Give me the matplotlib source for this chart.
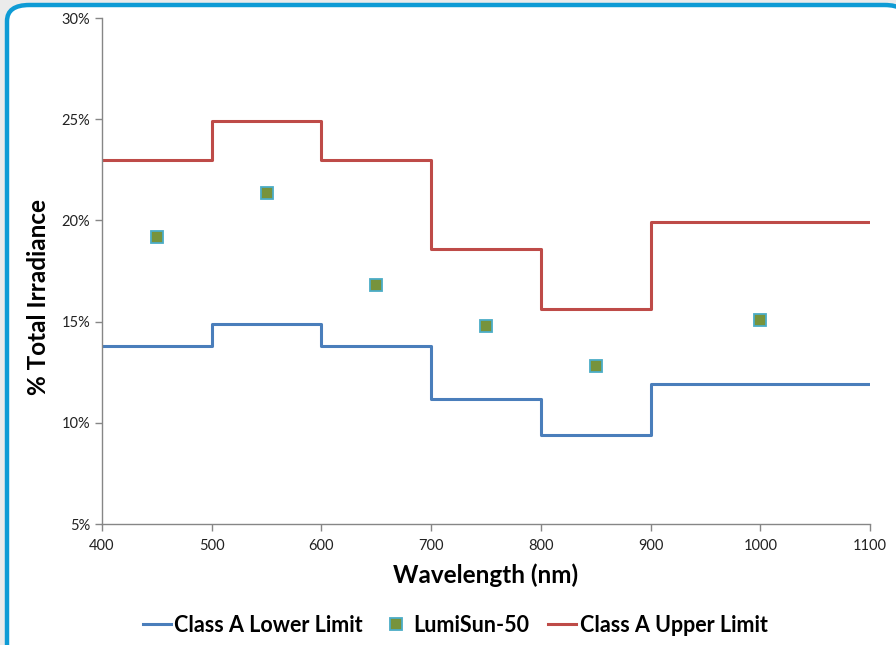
import matplotlib.pyplot as plt
from matplotlib.patches import FancyBboxPatch
from matplotlib.ticker import FuncFormatter

plt.rcParams['font.family'] = ['Lato', 'DejaVu Sans']

# step edges (nm) and limit values (%)
edges = [400, 500, 600, 700, 800, 900, 1100]
lower = [13.8, 14.9, 13.8, 11.2, 9.4, 11.9]
upper = [23.0, 24.9, 23.0, 18.6, 15.6, 19.9]

# measured points
meas_x = [450, 550, 650, 750, 850, 1000]
meas_y = [19.2, 21.35, 16.8, 14.8, 12.8, 15.1]

fig = plt.figure(figsize=(8.96, 6.45), dpi=100)
fig.patch.set_facecolor('#ebebeb')

# rounded white panel with blue border
panel = FancyBboxPatch((7 / 896, -20 / 645), 900 / 896, 660 / 645,
                       boxstyle='round,pad=0,rounding_size=0.025',
                       transform=fig.transFigure, facecolor='white',
                       edgecolor='#0e9bd5', linewidth=3.2, zorder=-5)
fig.patches.append(panel)

ax = fig.add_axes([102 / 896, 121 / 645, 768 / 896, 506 / 645])
ax.set_facecolor('none')
ax.set_zorder(2)

ax.step(edges, lower + [lower[-1]], where='post', color='#4a7ebb', lw=2.2,
        label='Class A Lower Limit')
ax.plot(meas_x, meas_y, ls='none', marker='s', ms=8.5, mfc='#77933c',
        mec='#4bacc6', mew=1.3, label='LumiSun-50')
ax.step(edges, upper + [upper[-1]], where='post', color='#be4b48', lw=2.2,
        label='Class A Upper Limit')

ax.set_xlim(400, 1100)
ax.set_ylim(5, 30)
ax.set_xticks(range(400, 1101, 100))
ax.set_yticks(range(5, 31, 5))
ax.yaxis.set_major_formatter(FuncFormatter(lambda v, p: f'{v:.0f}%'))

for s in ['top', 'right']:
    ax.spines[s].set_visible(False)
for s in ['left', 'bottom']:
    ax.spines[s].set_color('#868686')
    ax.spines[s].set_linewidth(1.0)
ax.tick_params(colors='#868686', labelcolor='#222222', labelsize=10.5,
               length=5, width=1.0)
ax.tick_params(axis='x', pad=6)

ax.set_xlabel('Wavelength (nm)', fontsize=17.5, fontweight='bold', labelpad=7)
ax.set_ylabel('% Total Irradiance', fontsize=17.5, fontweight='bold')
ax.yaxis.set_label_coords(-0.068, 0.449)

leg = fig.legend(loc='center', bbox_to_anchor=(455 / 896, 20 / 645), ncol=3,
                 frameon=False, prop={'weight': 'bold', 'size': 15.5},
                 handlelength=1.3, handletextpad=0.15, columnspacing=0.9)
leg.set_zorder(3)

fig.savefig('out.png', dpi=100, facecolor=fig.get_facecolor())
